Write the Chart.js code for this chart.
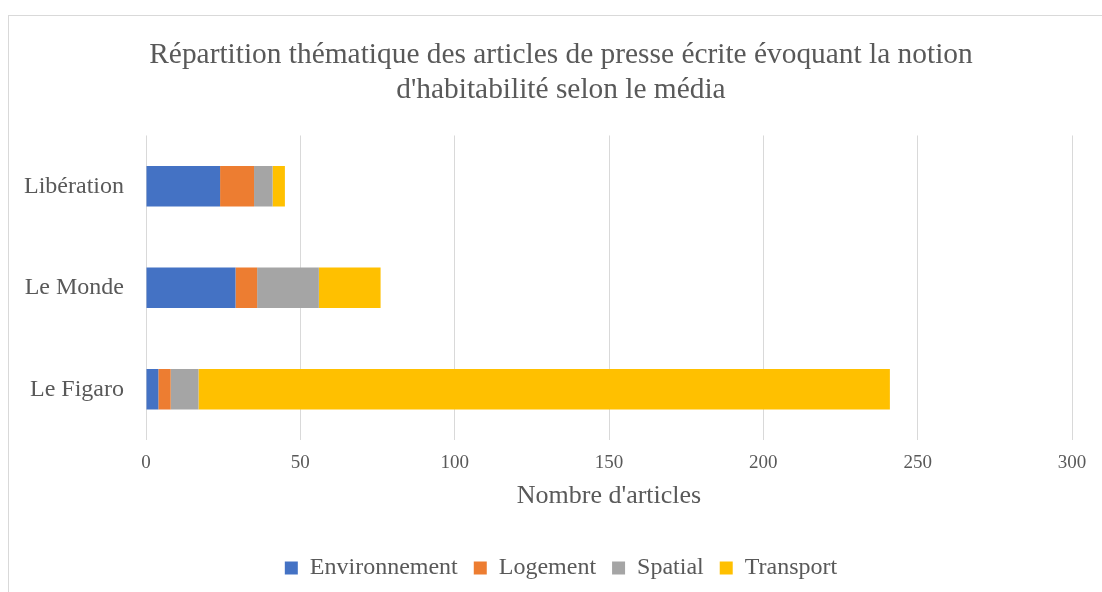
<!DOCTYPE html>
<html lang="fr">
<head>
    <meta charset="UTF-8">
    <title>Répartition thématique des articles</title>
    <script src="https://cdn.jsdelivr.net/npm/chart.js"></script>
    <style>
        html, body { margin: 0; padding: 0; background: #fff; overflow: hidden; }
        #wrap { position: absolute; left: 8px; top: 15px; width: 1108px; height: 590px; border: 1px solid #d9d9d9; }
    </style>
</head>
<body>
    <div id="wrap"><canvas id="chart" width="1108" height="590"></canvas></div>

    <script>
        // Data
        const medias = ['Libération', 'Le Monde', 'Le Figaro'];
        const environnement = [24, 29, 4];
        const logement = [11, 7, 4];
        const spatial = [6, 20, 9];
        const transport = [4, 20, 224];

        const textColor = '#595959';
        const serif = "'Liberation Serif', 'Times New Roman', serif";

        let ctx = document.getElementById('chart').getContext('2d');
        new Chart(ctx, {
            type: 'bar',
            data: {
                labels: medias,
                datasets: [
                    { label: 'Environnement', data: environnement, backgroundColor: '#4472C4' },
                    { label: 'Logement', data: logement, backgroundColor: '#ED7D31' },
                    { label: 'Spatial', data: spatial, backgroundColor: '#A5A5A5' },
                    { label: 'Transport', data: transport, backgroundColor: '#FFC000' }
                ]
            },
            options: {
                indexAxis: 'y',
                responsive: false,
                animation: false,
                datasets: { bar: { barPercentage: 0.4, categoryPercentage: 1 } },
                layout: { padding: { left: 41, right: 45, top: 0, bottom: 16 } },
                plugins: {
                    title: {
                        display: true,
                        text: ['Répartition thématique des articles de presse écrite évoquant la notion',
                               "d'habitabilité selon le média"],
                        color: textColor,
                        font: { family: serif, size: 29.4, weight: 'normal', lineHeight: 1.19 },
                        padding: { top: 22, bottom: 27.5 }
                    },
                    legend: {
                        position: 'bottom',
                        labels: {
                            color: textColor,
                            font: { family: serif, size: 24 },
                            boxWidth: 13,
                            boxHeight: 13,
                            padding: 16
                        }
                    },
                    tooltip: { enabled: false }
                },
                scales: {
                    x: {
                        stacked: true,
                        min: 0,
                        max: 300,
                        ticks: { stepSize: 50, color: textColor, font: { family: serif, size: 19 }, padding: 12 },
                        grid: { color: '#d9d9d9', drawTicks: false },
                        border: { display: false },
                        title: {
                            display: true,
                            text: "Nombre d'articles",
                            color: textColor,
                            font: { family: serif, size: 26 },
                            padding: { top: 0, bottom: 28 }
                        },
                        afterFit: function (scale) { scale.height = 100; }
                    },
                    y: {
                        stacked: true,
                        // mirrored labels are not clipped to the narrow axis box
                        ticks: {
                            color: textColor,
                            font: { family: serif, size: 24 },
                            mirror: true,
                            crossAlign: 'far',
                            padding: -122
                        },
                        grid: { display: false, drawTicks: false },
                        border: { display: false },
                        afterFit: function (scale) { scale.width = 96; }
                    }
                }
            }
        });
    </script>
</body>
</html>
